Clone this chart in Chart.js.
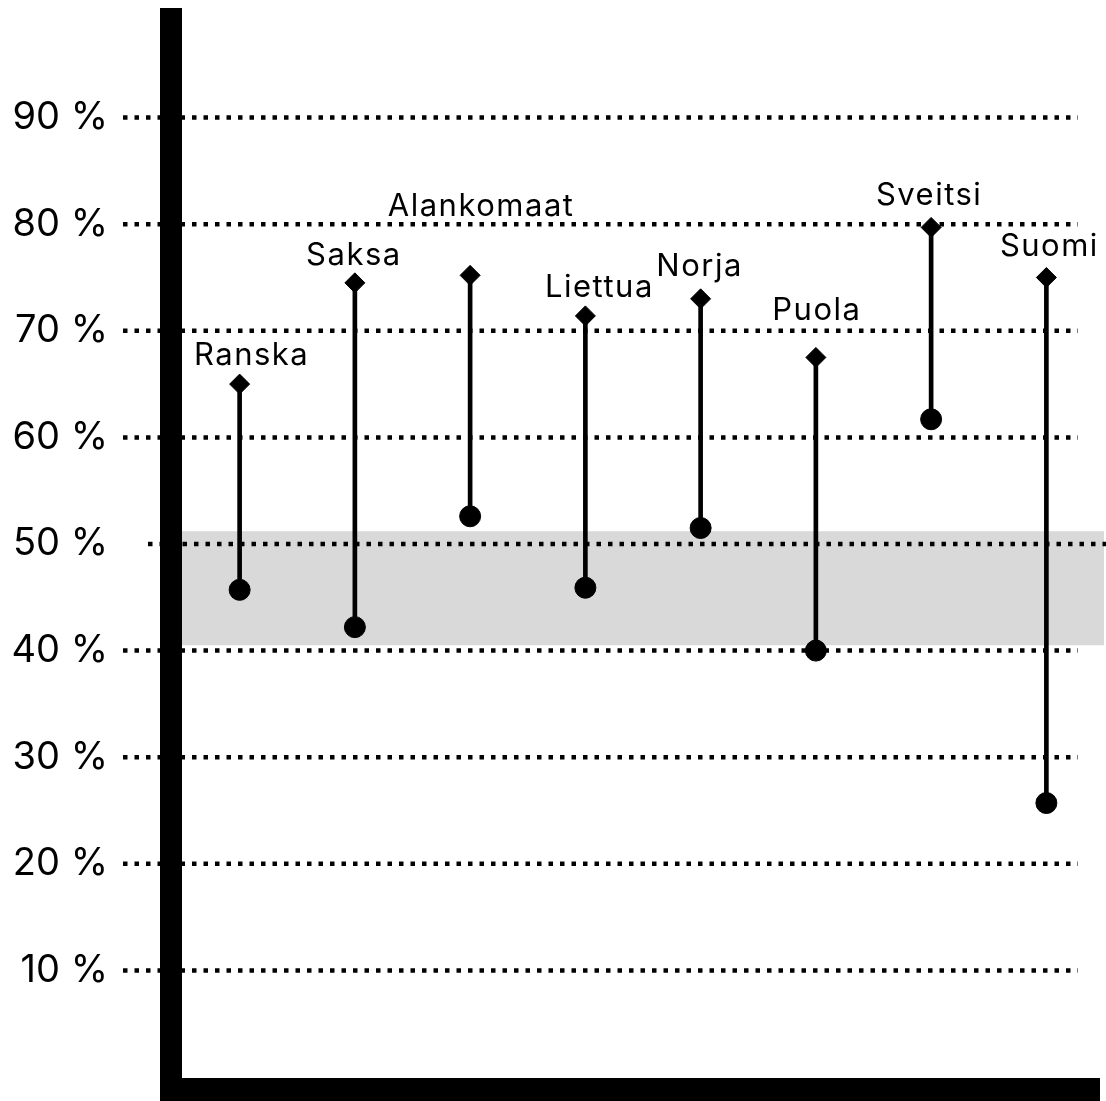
<!DOCTYPE html>
<html lang="fi">
<head>
<meta charset="utf-8">
<title>Vaihteluvälit maittain</title>
<script src="https://cdn.jsdelivr.net/npm/chart.js@4.4.1/dist/chart.umd.min.js"></script>
<style>
  html, body { margin: 0; padding: 0; background: #fff; }
  #wrap { position: relative; width: 1106px; height: 1101px; }
</style>
</head>
<body>
<div id="wrap"><canvas id="kaavio"></canvas></div>
<script>
// Maat ja arvot: ylä = salmiakki, ala = pallo
const maat = ['Ranska', 'Saksa', 'Alankomaat', 'Liettua', 'Norja', 'Puola', 'Sveitsi', 'Suomi'];
const ylaArvot = [65.0, 74.5, 75.2, 71.4, 73.0, 67.5, 79.7, 75.0];
const alaArvot = [45.7, 42.2, 52.6, 45.9, 51.5, 40.0, 61.7, 25.7];
const yTicks = [10, 20, 30, 40, 50, 60, 70, 80, 90];
const vyohyke = [40.5, 51.2]; // harmaa alue

const FONTTI = 'Inter, "Open Sans", sans-serif';

// Harmaa vyöhyke, pisteviivat ja paksut akselit
const taustaPlugin = {
    id: 'tausta',
    beforeDatasetsDraw(chart) {
        const { ctx, chartArea: a, scales: { y } } = chart;
        ctx.save();

        const yYla = y.getPixelForValue(vyohyke[1]);
        const yAla = y.getPixelForValue(vyohyke[0]);
        ctx.fillStyle = '#d9d9d9';
        ctx.fillRect(a.left, yYla, a.right - a.left, yAla - yYla);

        ctx.strokeStyle = '#000';
        ctx.lineWidth = 4.5;
        ctx.setLineDash([4.5, 7]);
        y.ticks.forEach(t => {
            const py = y.getPixelForValue(t.value);
            const alueella = t.value >= vyohyke[0] && t.value <= vyohyke[1];
            const x0 = t.value === 50 ? a.left - 34 : a.left - 59;
            const x1 = alueella ? a.right + 2 : a.right - 26;
            ctx.beginPath();
            ctx.moveTo(x0, py);
            ctx.lineTo(x1, py);
            ctx.stroke();
        });
        ctx.setLineDash([]);

        ctx.fillStyle = '#000';
        const y0 = y.getPixelForValue(0);
        ctx.fillRect(a.left - 22, a.top - 3, 22, chart.height - a.top + 3);
        ctx.fillRect(a.left - 22, y0 + 1, a.right - a.left + 18, chart.height - y0);
        ctx.restore();
    }
};

// Maiden nimet pisteiden yläpuolelle
const nimetPlugin = {
    id: 'nimet',
    afterDatasetsDraw(chart, args, opts) {
        const meta = chart.getDatasetMeta(1);
        const ctx = chart.ctx;
        ctx.save();
        ctx.font = '31px ' + FONTTI;
        ctx.letterSpacing = '1.5px';
        ctx.fillStyle = '#000';
        ctx.textAlign = 'center';
        ctx.textBaseline = 'alphabetic';
        meta.data.forEach((p, i) => {
            ctx.fillText(maat[i], p.x + opts.dx[i], p.y - opts.dy[i]);
        });
        ctx.restore();
    }
};

new Chart(document.getElementById('kaavio'), {
    type: 'bar',
    data: {
        labels: maat,
        datasets: [{
            label: 'Vaihteluväli',
            data: maat.map((m, i) => [alaArvot[i], ylaArvot[i]]),
            backgroundColor: '#000',
            barThickness: 4,
            order: 3
        }, {
            type: 'line',
            label: 'Ylä',
            data: ylaArvot,
            showLine: false,
            pointStyle: 'rectRot',
            pointRadius: 10,
            pointBorderWidth: 1,
            pointBackgroundColor: '#000',
            pointBorderColor: '#000',
            order: 1
        }, {
            type: 'line',
            label: 'Ala',
            data: alaArvot,
            showLine: false,
            pointStyle: 'circle',
            pointRadius: 10.5,
            pointBorderWidth: 1,
            pointBackgroundColor: '#000',
            pointBorderColor: '#000',
            order: 2
        }]
    },
    options: {
        responsive: true,
        maintainAspectRatio: false,
        animation: false,
        devicePixelRatio: 1,
        layout: {
            autoPadding: false,
            padding: { top: 11, right: 2, bottom: 24, left: 0 }
        },
        plugins: {
            legend: { display: false },
            tooltip: { enabled: false },
            nimet: {
                dx: [12, -1, 11, 14, -1, 1, -2, 3],
                dy: [19, 18, 59, 19, 23, 37, 22, 22]
            }
        },
        scales: {
            x: {
                display: false,
                offset: true
            },
            y: {
                min: 0,
                max: 100,
                grid: { display: false, drawTicks: false },
                border: { display: false },
                afterBuildTicks: scale => {
                    scale.ticks = yTicks.map(v => ({ value: v }));
                },
                afterFit: scale => {
                    scale.width = 182;
                    scale.paddingTop = 0;
                    scale.paddingBottom = 0;
                },
                ticks: {
                    padding: 74,
                    color: '#000',
                    font: { family: FONTTI, size: 38 },
                    callback: v => v + ' %'
                }
            }
        }
    },
    plugins: [taustaPlugin, nimetPlugin]
});
</script>
</body>
</html>
